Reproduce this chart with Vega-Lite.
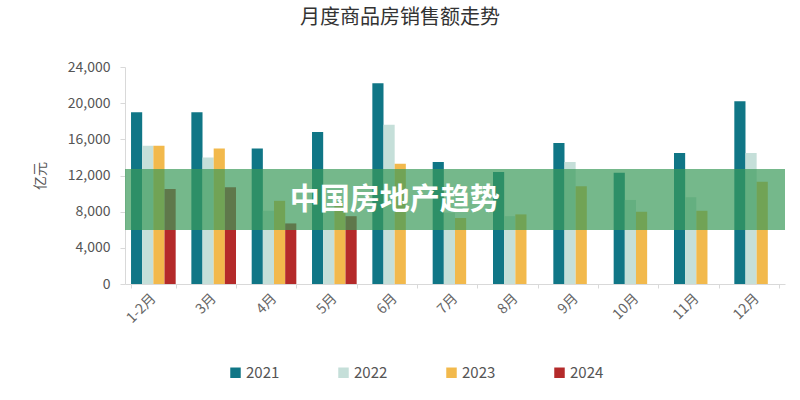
{
  "$schema": "https://vega.github.io/schema/vega-lite/v6.json",
  "width": 660,
  "height": 217,
  "autosize": "none",
  "padding": {"left": 125, "top": 67, "right": 15, "bottom": 116},
  "background": "white",
  "title": {
    "text": "月度商品房销售额走势",
    "fontSize": 20,
    "fontWeight": "normal",
    "color": "#333333",
    "font": "Noto Sans CJK SC",
    "anchor": "middle",
    "dx": -55,
    "offset": 32
  },
  "config": {
    "font": "Noto Sans CJK SC",
    "view": {"stroke": null},
    "axisX": {
      "labelAngle": -45,
      "labelAlign": "right",
      "labelBaseline": "middle",
      "labelFontSize": 14,
      "labelColor": "#666666",
      "labelPadding": 8,
      "domainColor": "#d9d9d9",
      "tickColor": "#d9d9d9",
      "tickBand": "extent",
      "tickSize": 4
    },
    "axisY": {
      "labelOverlap": false,
      "labelExpr": "format(datum.value, ',')",
      "grid": false,
      "labelFontSize": 14,
      "labelColor": "#555555",
      "labelPadding": 10,
      "domainColor": "#d9d9d9",
      "tickColor": "#d9d9d9",
      "tickSize": 5,
      "titleFontSize": 14,
      "titleFontWeight": "normal",
      "titleColor": "#555555",
      "titlePadding": 20
    }
  },
  "data": {
    "values": [
      {"month": "1-2月", "year": "2021", "value": 19000},
      {"month": "1-2月", "year": "2022", "value": 15300},
      {"month": "1-2月", "year": "2023", "value": 15300},
      {"month": "1-2月", "year": "2024", "value": 10500},
      {"month": "3月", "year": "2021", "value": 19000},
      {"month": "3月", "year": "2022", "value": 14000},
      {"month": "3月", "year": "2023", "value": 15000},
      {"month": "3月", "year": "2024", "value": 10700},
      {"month": "4月", "year": "2021", "value": 15000},
      {"month": "4月", "year": "2022", "value": 8100},
      {"month": "4月", "year": "2023", "value": 9200},
      {"month": "4月", "year": "2024", "value": 6700},
      {"month": "5月", "year": "2021", "value": 16800},
      {"month": "5月", "year": "2022", "value": 8000},
      {"month": "5月", "year": "2023", "value": 9000},
      {"month": "5月", "year": "2024", "value": 7500},
      {"month": "6月", "year": "2021", "value": 22200},
      {"month": "6月", "year": "2022", "value": 17600},
      {"month": "6月", "year": "2023", "value": 13300},
      {"month": "7月", "year": "2021", "value": 13500},
      {"month": "7月", "year": "2022", "value": 7900},
      {"month": "7月", "year": "2023", "value": 7300},
      {"month": "8月", "year": "2021", "value": 12400},
      {"month": "8月", "year": "2022", "value": 7500},
      {"month": "8月", "year": "2023", "value": 7700},
      {"month": "9月", "year": "2021", "value": 15600},
      {"month": "9月", "year": "2022", "value": 13500},
      {"month": "9月", "year": "2023", "value": 10800},
      {"month": "10月", "year": "2021", "value": 12300},
      {"month": "10月", "year": "2022", "value": 9300},
      {"month": "10月", "year": "2023", "value": 8000},
      {"month": "11月", "year": "2021", "value": 14500},
      {"month": "11月", "year": "2022", "value": 9600},
      {"month": "11月", "year": "2023", "value": 8100},
      {"month": "12月", "year": "2021", "value": 20200},
      {"month": "12月", "year": "2022", "value": 14500},
      {"month": "12月", "year": "2023", "value": 11300}
    ]
  },
  "layer": [
    {
      "mark": {"type": "bar"},
      "encoding": {
        "x": {
          "field": "month",
          "type": "nominal",
          "sort": null,
          "title": null,
          "scale": {"paddingInner": 0.26, "paddingOuter": 0.1}
        },
        "xOffset": {
          "field": "year",
          "type": "nominal",
          "scale": {"domain": ["2021", "2022", "2023", "2024"]}
        },
        "y": {
          "field": "value",
          "type": "quantitative",
          "title": "亿元",
          "scale": {"domain": [0, 24000]},
          "axis": {"values": [0, 4000, 8000, 12000, 16000, 20000, 24000]}
        },
        "color": {
          "field": "year",
          "type": "nominal",
          "scale": {
            "domain": ["2021", "2022", "2023", "2024"],
            "range": ["#107686", "#c5dfd9", "#f2b94c", "#b42a2a"]
          },
          "legend": {
            "title": null,
            "orient": "none",
            "direction": "horizontal",
            "legendX": 103,
            "legendY": 298,
            "symbolType": "square",
            "symbolSize": 110,
            "symbolStrokeWidth": 0,
            "labelFontSize": 15,
            "labelColor": "#555555",
            "columnPadding": 56,
            "labelOffset": 3
          }
        }
      }
    },
    {
      "data": {"values": [{}]},
      "mark": {"type": "rect", "fill": "#3a9a5a", "opacity": 0.7},
      "encoding": {
        "y": {
          "datum": 12720,
          "type": "quantitative",
          "title": "亿元",
          "axis": {"values": [0, 4000, 8000, 12000, 16000, 20000, 24000]}
        },
        "y2": {"datum": 5970}
      }
    },
    {
      "data": {"values": [{}]},
      "mark": {
        "type": "text",
        "text": "中国房地产趋势",
        "fontSize": 30,
        "fontWeight": "bold",
        "color": "white",
        "font": "Noto Sans CJK SC"
      },
      "encoding": {
        "x": {"datum": "6月", "type": "nominal", "title": null},
        "y": {
          "datum": 9300,
          "type": "quantitative",
          "title": "亿元",
          "axis": {"values": [0, 4000, 8000, 12000, 16000, 20000, 24000]}
        }
      }
    }
  ]
}
